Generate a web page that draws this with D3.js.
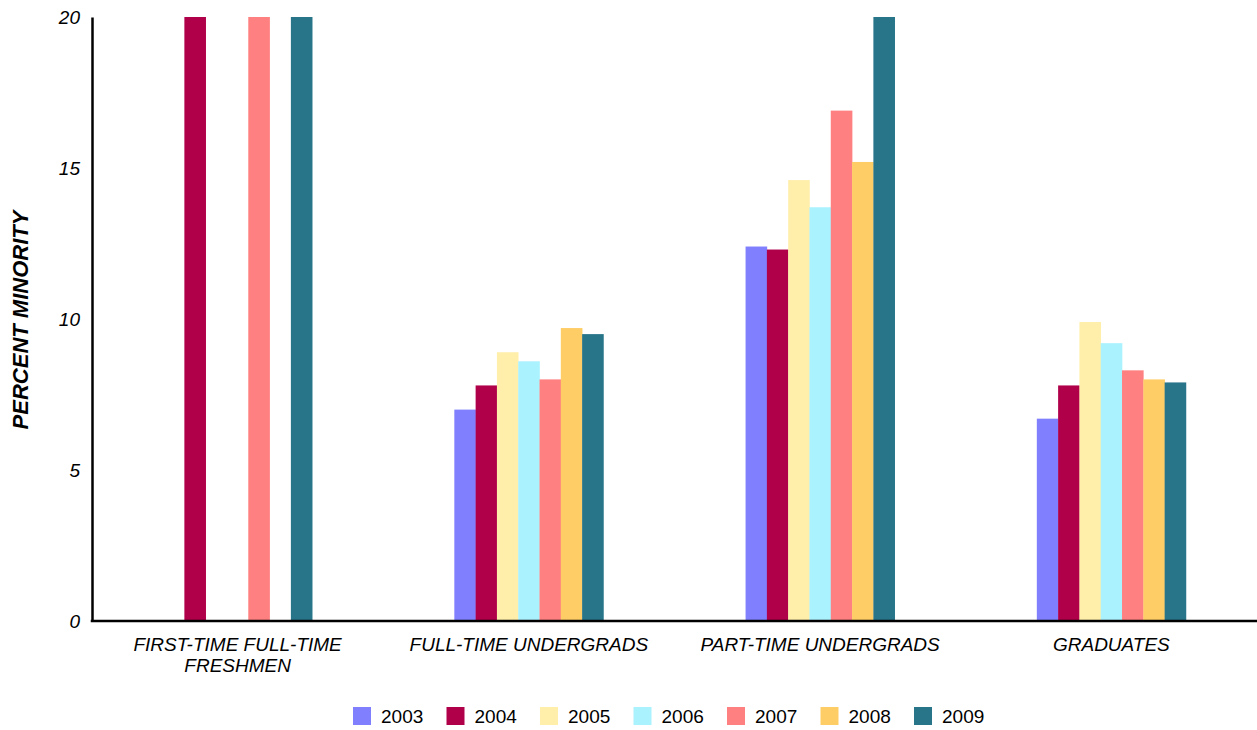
<!DOCTYPE html>
<html>
<head>
<meta charset="utf-8">
<script src="https://cdn.jsdelivr.net/npm/d3@7"></script>
<style>
  body { margin: 0; background: #fff; }
  svg text { font-family: "Liberation Sans", Arial, sans-serif; fill: #000; }
</style>
</head>
<body>
<script>
// data
var categories = ["FIRST-TIME FULL-TIME FRESHMEN", "FULL-TIME UNDERGRADS", "PART-TIME UNDERGRADS", "GRADUATES"];
var years = ["2003", "2004", "2005", "2006", "2007", "2008", "2009"];
var colors = ["#8080ff", "#b0004a", "#ffefab", "#abf2ff", "#ff8080", "#ffcd66", "#28758a"];
// values above 20 run off the top of the axis; null = no bar
var v2003 = [null, 7.0, 12.4, 6.7];
var v2004 = [24, 7.8, 12.3, 7.8];
var v2005 = [null, 8.9, 14.6, 9.9];
var v2006 = [null, 8.6, 13.7, 9.2];
var v2007 = [24, 8.0, 16.9, 8.3];
var v2008 = [null, 9.7, 15.2, 8.0];
var v2009 = [24, 9.5, 21, 7.9];
var yTicks = [0, 5, 10, 15, 20];

var series = [v2003, v2004, v2005, v2006, v2007, v2008, v2009];

var W = 1257, H = 730;
var mLeft = 92, mTop = 17, mBottom = 621;
var fs = "19px";

var svg = d3.select("body").append("svg")
  .attr("width", W)
  .attr("height", H);

var x0 = d3.scaleBand().domain(categories).range([mLeft, W]);
var bw = x0.bandwidth();
var gw = bw * 0.512;
var x1 = d3.scaleBand().domain(years).range([(bw - gw) / 2, (bw + gw) / 2]);
var y = d3.scaleLinear().domain([0, 20]).range([mBottom, mTop]).clamp(true);

// bars
var groups = svg.selectAll("g.grp")
  .data(categories)
  .enter().append("g")
  .attr("class", "grp")
  .attr("transform", function(d) { return "translate(" + x0(d) + ",0)"; });

groups.selectAll("rect")
  .data(function(d, i) {
    return years.map(function(yr, j) { return {year: yr, value: series[j][i], c: colors[j]}; })
      .filter(function(e) { return e.value != null; });
  })
  .enter().append("rect")
  .attr("x", function(d) { return x1(d.year); })
  .attr("width", x1.bandwidth() + 0.3)
  .attr("y", function(d) { return y(d.value); })
  .attr("height", function(d) { return y(0) - y(d.value); })
  .attr("fill", function(d) { return d.c; });

// y axis
var yAxis = d3.axisLeft(y).tickValues(yTicks).tickSize(0).tickPadding(12);
var ya = svg.append("g").attr("transform", "translate(" + mLeft + ",0)").call(yAxis);
ya.select(".domain").attr("stroke", "#000").attr("stroke-width", 2.5);
ya.selectAll("text")
  .style("font-size", fs)
  .style("font-style", "italic")
  .style("font-family", "Liberation Sans, Arial, sans-serif")
  .attr("fill", "#000");

// x axis line
svg.append("line")
  .attr("x1", mLeft - 1.25).attr("x2", W)
  .attr("y1", mBottom).attr("y2", mBottom)
  .attr("stroke", "#000").attr("stroke-width", 2.5);

// category labels (wrapped)
var labelLines = {
  "FIRST-TIME FULL-TIME FRESHMEN": ["FIRST-TIME FULL-TIME", "FRESHMEN"]
};
categories.forEach(function(c) {
  var lines = labelLines[c] || [c];
  var t = svg.append("text")
    .attr("x", x0(c) + bw / 2)
    .attr("y", 651)
    .attr("text-anchor", "middle")
    .style("font-size", fs)
    .style("font-style", "italic");
  lines.forEach(function(l, i) {
    t.append("tspan")
      .attr("x", x0(c) + bw / 2)
      .attr("dy", i === 0 ? 0 : 21)
      .text(l);
  });
});

// y title
svg.append("text")
  .attr("transform", "translate(28,320) rotate(-90)")
  .attr("text-anchor", "middle")
  .style("font-size", "22px")
  .style("font-weight", "bold")
  .style("font-style", "italic")
  .text("PERCENT MINORITY");

// legend
var legX = 353, legStep = 93.5;
var leg = svg.selectAll("g.leg")
  .data(years)
  .enter().append("g")
  .attr("class", "leg")
  .attr("transform", function(d, i) { return "translate(" + (legX + i * legStep) + ",707)"; });
leg.append("rect")
  .attr("width", 18).attr("height", 18)
  .attr("fill", function(d, i) { return colors[i]; });
leg.append("text")
  .attr("x", 28).attr("y", 16)
  .style("font-size", fs)
  .text(function(d) { return d; });
</script>
</body>
</html>
